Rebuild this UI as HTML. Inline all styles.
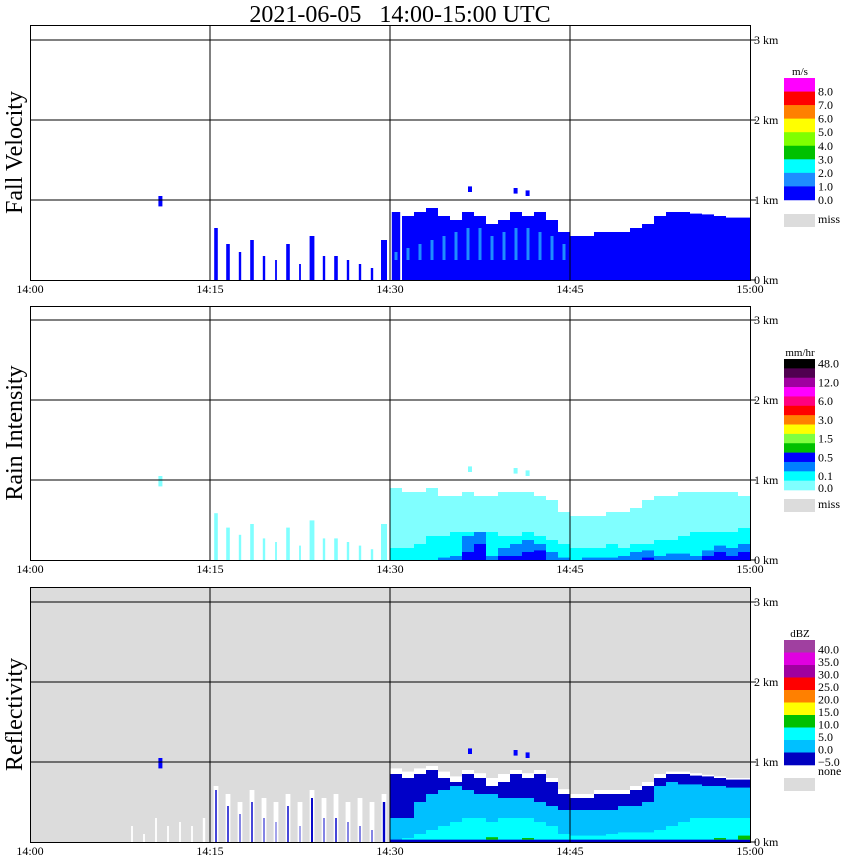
<!DOCTYPE html>
<html><head><meta charset="utf-8"><style>
body{margin:0;background:#fff;}
svg{display:block;font-family:"Liberation Serif",serif;}
</style></head><body>
<svg id="chart" width="850" height="868" viewBox="0 0 850 868" xmlns="http://www.w3.org/2000/svg">
<text x="400" y="22" font-size="24" text-anchor="middle" xml:space="preserve">2021-06-05   14:00-15:00 UTC</text>
</svg>
<script>
// ---- data (per minute, km) ----
const echoTop = [0,0,0,0,0,0,0,0,0,0, 0,0,0,0,0, 0.65,0.45,0.35,0.5,0.3,0.25,0.45,0.2,0.55,0.3,0.3,0.25,0.2,0.15,0.5,
 0.85,0.8,0.85,0.9,0.8,0.75,0.85,0.8,0.7,0.75,0.85,0.8,0.85,0.75,0.6,0.55,0.55,0.6,0.6,0.6,0.65,0.7,0.8,0.85,0.85,0.83,0.82,0.8,0.78,0.78];
const echoCover = [0,0,0,0,0,0,0,0,0,0, 0,0,0,0,0, 0.3,0.3,0.2,0.3,0.2,0.15,0.3,0.15,0.4,0.2,0.3,0.2,0.2,0.2,0.5,
 0.7,1,1,1,1,1,1,1,1,1,1,1,1,1,1,1,1,1,1,1,1,1,1,1,1,1,1,1,1,1];
const rainTop = [0.9,0.85,0.85,0.9,0.8,0.8,0.85,0.8,0.8,0.85,0.85,0.85,0.8,0.75,0.6,0.55,0.55,0.55,0.6,0.6,0.65,0.75,0.8,0.8,0.85,0.85,0.85,0.85,0.85,0.8];
const rainMid = [0.15,0.15,0.2,0.3,0.3,0.35,0.35,0.3,0.35,0.3,0.3,0.35,0.3,0.25,0.2,0.15,0.15,0.15,0.2,0.15,0.2,0.2,0.25,0.25,0.3,0.35,0.35,0.35,0.35,0.4];
const rainBlue = [0,0,0,0,0.03,0.05,0.3,0.35,0.05,0.15,0.2,0.25,0.2,0.1,0.03,0,0.03,0.03,0.03,0.05,0.1,0.12,0.05,0.08,0.08,0.05,0.12,0.18,0.15,0.2];
const rainDeep = [0,0,0,0,0,0,0.1,0.2,0,0.05,0.05,0.1,0.12,0,0,0,0,0,0,0,0,0.03,0,0,0,0,0.05,0.1,0.05,0.1];
const dbzMid = [0.3,0.3,0.5,0.6,0.65,0.7,0.65,0.6,0.6,0.55,0.55,0.55,0.5,0.45,0.4,0.4,0.4,0.4,0.4,0.45,0.45,0.5,0.7,0.75,0.72,0.72,0.7,0.7,0.68,0.68];
const dbzCyan = [0,0.05,0.1,0.15,0.2,0.25,0.3,0.3,0.25,0.3,0.3,0.3,0.25,0.2,0.1,0.08,0.08,0.08,0.1,0.12,0.12,0.12,0.15,0.2,0.25,0.3,0.3,0.3,0.3,0.3];
const dbzGreen = [0,0,0,0,0,0,0,0,0.06,0.03,0,0.05,0,0,0,0,0,0,0,0,0,0,0,0,0,0,0.03,0.05,0.02,0.08];
const whiteTop = [0,0,0,0,0,0,0,0,0.2,0.1,0.3,0.2,0.25,0.2,0.3, 0.7,0.6,0.5,0.65,0.55,0.5,0.6,0.5,0.65,0.55,0.6,0.5,0.55,0.5,0.6,
 0.92,0.88,0.92,0.95,0.88,0.82,0.9,0.86,0.8,0.85,0.9,0.86,0.9,0.8,0.66,0.6,0.6,0.65,0.65,0.65,0.7,0.75,0.85,0.88,0.88,0.86,0.84,0.82,0.8,0.8];
const whiteCover = [0,0,0,0,0,0,0,0,0.15,0.15,0.15,0.15,0.15,0.15,0.2, 0.4,0.4,0.4,0.4,0.4,0.4,0.4,0.4,0.4,0.4,0.4,0.4,0.4,0.4,0.4,
 1,1,1,1,1,1,1,1,1,1,1,1,1,1,1,1,1,1,1,1,1,1,1,1,1,1,1,1,1,1];
const speckMin = [10.7, 36.5, 40.3, 41.3];
const speckBase = [0.92, 1.1, 1.08, 1.05];
const speckTop = [1.05, 1.17, 1.15, 1.12];
const timeLabels = ["14:00","14:15","14:30","14:45","15:00"];
const kmLabels = ["0 km","1 km","2 km","3 km"];

const NS="http://www.w3.org/2000/svg";
const svg=document.getElementById('chart');
function el(t,a,p){const e=document.createElementNS(NS,t);for(const k in a)e.setAttribute(k,a[k]);(p||svg).appendChild(e);return e;}
const X0=30, PXMIN=12, PXKM=80;
const xS=m=>X0+PXMIN*m;
const panels=[{top:25,base:280,title:"Fall Velocity",name:"fall-velocity"},{top:306,base:560,title:"Rain Intensity",name:"rain-intensity"},{top:587,base:842,title:"Reflectivity",name:"reflectivity"}];

function col(g,base,m,bot,top,cover,color,name){
  if(top<=bot||cover<=0) return;
  const w=PXMIN*cover;
  const r=el('rect',{x:xS(m)+(PXMIN-w)/2,y:base-PXKM*top,width:w,height:PXKM*(top-bot),fill:color},g);
  
  
}

panels.forEach((p,pi)=>{
  const g=el('g',{});
  
  
  if(pi===2){el('rect',{x:30,y:p.top,width:720,height:p.base-p.top,fill:'#dcdcdc'},g);}
  const base=p.base;
  for(let m=0;m<60;m++){
    const rm=m-30;
    if(pi===0){
      col(g,base,m,0,echoTop[m],echoCover[m],'#0000ff','fall-velocity-cell');
      if(m>=30 && m<45) col(g,base,m,0.25,Math.min(echoTop[m]-0.15,dbzCyan[rm]+0.35),0.25,'#1e8cff','fall-velocity-cell');
    } else if(pi===1){
      if(m<30) col(g,base,m,0,echoTop[m]*0.9,echoCover[m],'#80ffff','rain-cell');
      else{
        col(g,base,m,0,rainTop[rm],1,'#80ffff','rain-cell');
        col(g,base,m,0,rainMid[rm],1,'#00ffff','rain-cell');
        col(g,base,m,0,rainBlue[rm],1,'#0080ff','rain-cell');
        col(g,base,m,0,rainDeep[rm],1,'#0000ff','rain-cell');
      }
    } else {
      col(g,base,m,0,whiteTop[m],whiteCover[m],'#ffffff','clear-cell');
      if(m<30) col(g,base,m,0,echoTop[m],echoCover[m]*0.4,'#0000c8','dbz-cell');
      else{
        col(g,base,m,0,echoTop[m],1,'#0000c8','dbz-cell');
        col(g,base,m,0.03,dbzMid[rm],1,'#00c0ff','dbz-cell');
        col(g,base,m,0.03,dbzCyan[rm],1,'#00ffff','dbz-cell');
        col(g,base,m,0.03,dbzGreen[rm],1,'#00c000','dbz-cell');
      }
    }
  }
  for(let i=0;i<speckMin.length;i++){
    const s=el('rect',{x:xS(speckMin[i]),y:base-PXKM*speckTop[i],width:4,height:PXKM*(speckTop[i]-speckBase[i]),fill:pi===1?'#80ffff':'#0000ff'},g);
    
    
  }
  for(let k=1;k<=3;k++){const l=el('line',{x1:30,x2:750,y1:base-PXKM*k,y2:base-PXKM*k,stroke:'#000'},g);
    }
  [15,30,45].forEach(m=>{const l=el('line',{x1:xS(m),x2:xS(m),y1:p.top,y2:base,stroke:'#000'},g);
    });
  const fr=el('rect',{x:30.5,y:p.top+0.5,width:720,height:base-p.top,fill:'none',stroke:'#000'},g);
  
  kmLabels.forEach((t,k)=>{
    el('line',{x1:750,x2:756,y1:base-PXKM*k,y2:base-PXKM*k,stroke:'#000'},g);
    const tx=el('text',{x:754,y:base-PXKM*k+4,'font-size':12},g);tx.textContent=t;
    
  });
  timeLabels.forEach((t,k)=>{
    const tx=el('text',{x:xS(15*k),y:base+13,'font-size':12,'text-anchor':'middle'},g);tx.textContent=t;
    
  });
  const yt=el('text',{x:0,y:0,'font-size':24,'text-anchor':'middle',transform:`translate(22,${(p.top+base)/2}) rotate(-90)`},g);
  yt.textContent=p.title;
  
});

const cbFV={unit:'m/s',top:78,h:13.55,colors:['#ff00ff','#ff0000','#ff8000','#ffff00','#80ff00','#00c000','#00ffff','#1e8cff','#0000ff'],
 labels:['8.0','7.0','6.0','5.0','4.0','3.0','2.0','1.0','0.0'],miss:'miss',missY:214};
const cbRI={unit:'mm/hr',top:359,h:9.36,colors:['#000000','#500050','#a000a0','#ff00ff','#ff0080','#ff0000','#ff8000','#ffff00','#80ff40','#00c000','#0000ff','#0080ff','#00ffff','#80ffff'],
 labels:['48.0','12.0','6.0','3.0','1.5','0.5','0.1','0.0'],miss:'miss',missY:499};
const cbDZ={unit:'dBZ',top:640,h:12.5,colors:['#a040a0','#e000e0','#a000a0','#ff0000','#ff8000','#ffff00','#00c000','#00ffff','#00c0ff','#0000c0'],
 labels:['40.0','35.0','30.0','25.0','20.0','15.0','10.0','5.0','0.0','\u22125.0'],miss:'none',missY:778};
[cbFV,cbRI,cbDZ].forEach((c,ci)=>{
  const g=el('g',{});
  
  
  const u=el('text',{x:800,y:c.top-3,'font-size':11,'text-anchor':'middle'},g);u.textContent=c.unit;
  c.colors.forEach((col,i)=>{const r=el('rect',{x:784,y:c.top+i*c.h,width:31,height:c.h+0.3,fill:col},g);
    });
  c.labels.forEach((t,i)=>{
    let yy;
    if(ci===1){yy = i<7 ? c.top+c.h*(0.5+2*i)+4 : c.top+c.h*14+2;}
    else yy=c.top+c.h*(i+1)+4;
    if(ci===2) yy=c.top+c.h*(i+1)+1;
    const tx=el('text',{x:818,y:yy,'font-size':12},g);tx.textContent=t;
    
  });
  const mr=el('rect',{x:784,y:c.missY,width:31,height:13,fill:'#dcdcdc'},g);
  
  const mt=el('text',{x:818,y:ci===2?c.missY-3:c.missY+9,'font-size':12},g);mt.textContent=c.miss;
  
});
</script>
</body></html>
